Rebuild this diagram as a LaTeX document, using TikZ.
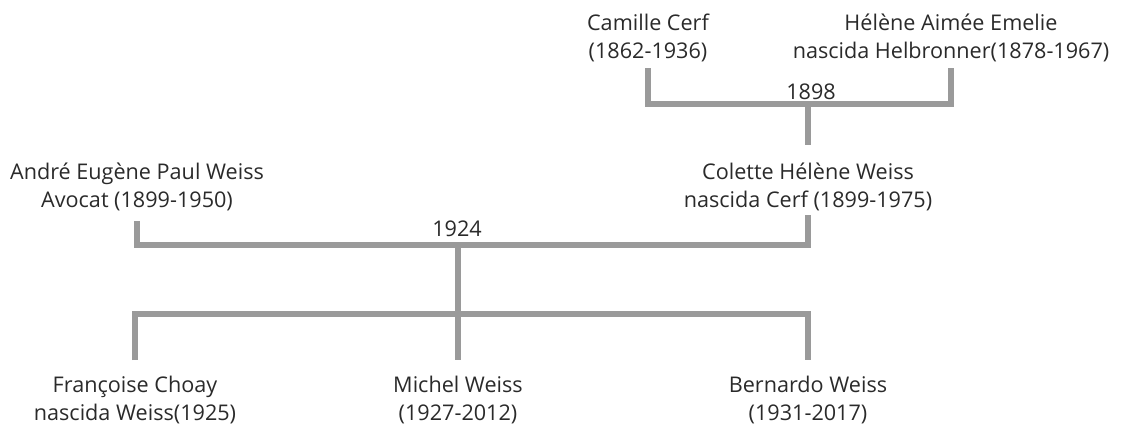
\documentclass[tikz,border=0pt]{standalone}
\usepackage{fontspec}
\setmainfont{Open Sans}
\usepackage{tikz}

\definecolor{linegray}{HTML}{9A9A9A}
\definecolor{textgray}{HTML}{2A2A2A}

\begin{document}
\begin{tikzpicture}[x=0.02cm,y=-0.02cm]
\tikzset{person/.style = {align=center, inner sep=0pt, text=textgray, font=\fontsize{12.3}{15.6}\selectfont}}
\tikzset{year/.style = {inner sep=0pt, text=textgray, font=\fontsize{12.3}{15.6}\selectfont}}
\tikzset{link/.style = {draw=linegray, line width=0.12cm}}
\useasboundingbox (0,0) rectangle (1123,424);

% parents of Colette
\node[person] (cc) at (648,38) {Camille Cerf\\(1862-1936)};
\node[person] (ha) at (951,38) {Hélène Aimée Emelie\\nascida Helbronner(1878-1967)};
\coordinate (j1) at (808,104);
\node[year] (y1898) at (811,92) {1898};

% couple
\node[person] (aw) at (137,187) {André Eugène Paul Weiss\\Avocat (1899-1950)};
\node[person] (cw) at (808,187) {Colette Hélène Weiss\\nascida Cerf (1899-1975)};
\coordinate (j2) at (458,245);
\node[year] (y1924) at (457,229) {1924};

% children
\coordinate (j3) at (458,314);
\node[person] (fc) at (135,400) {Françoise Choay\\nascida Weiss(1925)};
\node[person] (mw) at (458,400) {Michel Weiss\\(1927-2012)};
\node[person] (bw) at (808,400) {Bernardo Weiss\\(1931-2017)};

\draw[link, shorten <=0.12cm, shorten >=0.12cm] (cc.south) |- (j1) -| (ha.south);
\draw[link, shorten >=0.36cm] (j1) -- (cw.north);
\draw[link, shorten <=0.2cm, shorten >=0.08cm] (aw.south) |- (j2) -| (cw.south);
\draw[link] (j2) -- (j3);
\draw[link, shorten <=0.32cm, shorten >=0.32cm] (fc.north) |- (j3) -| (bw.north);
\draw[link, shorten >=0.32cm] (j3) -- (mw.north);

\end{tikzpicture}
\end{document}
